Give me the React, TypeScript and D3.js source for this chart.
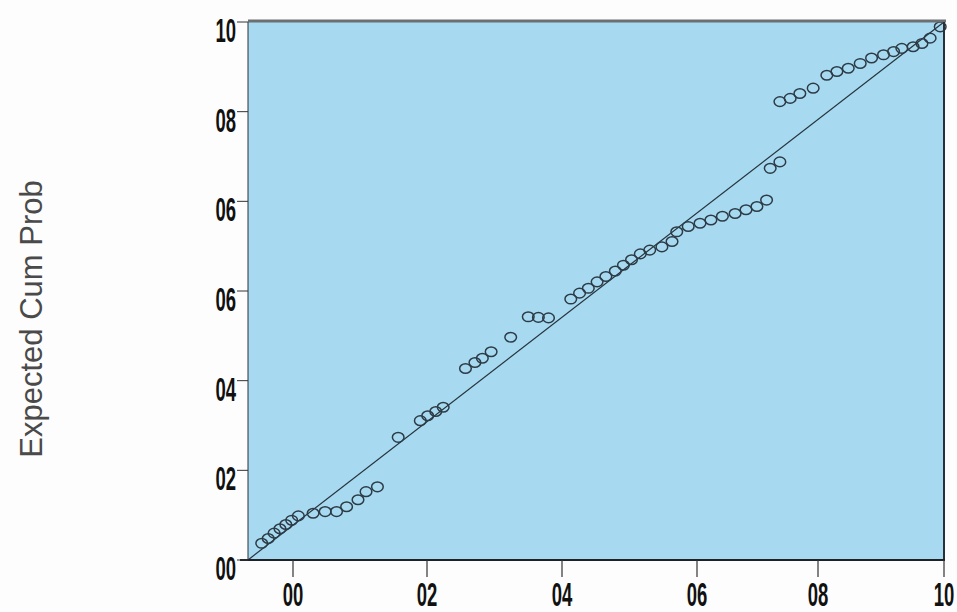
import React from 'react';
import * as d3 from 'd3';

// observed cumulative probability (x) and expected cumulative probability (y)
const observed = [
  -0.048, -0.038, -0.029, -0.02, -0.011, -0.002, 0.008, 0.03, 0.048, 0.065, 0.08, 0.097, 0.109, 0.126,
  0.157, 0.19, 0.201, 0.213, 0.224, 0.257, 0.271, 0.282, 0.295, 0.324, 0.35, 0.365, 0.38,
  0.413, 0.426, 0.439, 0.452, 0.465, 0.479, 0.491, 0.503, 0.516, 0.53, 0.548, 0.563, 0.57, 0.587,
  0.605, 0.623, 0.642, 0.663, 0.681, 0.699, 0.715, 0.721, 0.737, 0.737, 0.754, 0.77, 0.792,
  0.814, 0.83, 0.848, 0.867, 0.885, 0.904, 0.92, 0.933, 0.951, 0.965, 0.978, 0.994,
];
const expected = [
  0.031, 0.04, 0.05, 0.058, 0.066, 0.074, 0.082, 0.087, 0.09, 0.09, 0.099, 0.112, 0.127, 0.136,
  0.228, 0.259, 0.268, 0.276, 0.284, 0.356, 0.367, 0.375, 0.387, 0.414, 0.452, 0.451, 0.45,
  0.485, 0.496, 0.505, 0.517, 0.527, 0.537, 0.548, 0.558, 0.569, 0.576, 0.582, 0.592, 0.61, 0.62,
  0.626, 0.632, 0.639, 0.644, 0.651, 0.657, 0.669, 0.728, 0.74, 0.852, 0.858, 0.867, 0.877,
  0.901, 0.908, 0.914, 0.923, 0.933, 0.939, 0.945, 0.951, 0.954, 0.96, 0.97, 0.991,
];

const xMin = -0.069;
const xTickValues = [0, 0.2, 0.4, 0.6, 0.8, 1.0];
const xTickLabels = ['00', '02', '04', '06', '08', '10'];
const yTickValues = [0, 1 / 6, 2 / 6, 3 / 6, 4 / 6, 5 / 6, 1];
const yTickLabels = ['00', '02', '04', '06', '06', '08', '10'];

const W = 957;
const H = 612;
const left = 248;
const right = 944;
const top = 22;
const bottom = 560;

// the source chart's axis is slightly uneven, so the scale follows its tick marks
const x = d3
  .scaleLinear()
  .domain([xMin, 0, 0.2, 0.4, 0.6, 0.8, 1])
  .range([left, 293, 427, 562, 697, 818, right]);
const y = d3.scaleLinear().domain([0, 1]).range([bottom, top]);

const tickFont: React.CSSProperties = {
  fontFamily: '"Liberation Sans", Arial, sans-serif',
  fontWeight: 'bold',
  fontSize: 33,
};

export default function App() {
  const refLine = d3.line<[number, number]>()
    .x((d) => x(d[0]))
    .y((d) => y(d[1]));

  return (
    <svg width={W} height={H} style={{ position: 'absolute', left: 0, top: 0, background: '#fdfdfd' }}>
      <rect x={left} y={top} width={right - left} height={bottom - top} fill="#a7daf0" />

      {/* reference diagonal */}
      <path d={refLine([[xMin, 0], [1, 1]]) ?? ''} stroke="#26333c" strokeWidth={1.2} fill="none" />

      {observed.map((v, i) => (
        <ellipse
          key={i}
          cx={x(v)}
          cy={y(expected[i])}
          rx={5.8}
          ry={4.8}
          fill="none"
          stroke="#2c3b46"
          strokeWidth={1.5}
        />
      ))}

      {/* frame */}
      <line x1={left} x2={right + 2} y1={top - 1} y2={top - 1} stroke="#6b6f72" strokeWidth={3} />
      <line x1={left} x2={left} y1={top} y2={bottom} stroke="#2a3136" strokeWidth={1} />
      <line x1={right} x2={right} y1={top} y2={bottom} stroke="#2a3136" strokeWidth={2} />
      <line x1={left - 8} x2={right + 1} y1={bottom} y2={bottom} stroke="#1d2226" strokeWidth={2} />

      {/* y axis */}
      {yTickValues.map((v, i) => (
        <g key={i}>
          <line x1={left - 11} x2={left} y1={y(v)} y2={y(v)} stroke="#333" strokeWidth={1} />
          <text
            transform={`translate(236,${y(v) + 20}) scale(0.56,1)`}
            textAnchor="end"
            fill="#111"
            style={tickFont}
          >
            {yTickLabels[i]}
          </text>
        </g>
      ))}

      {/* x axis */}
      {xTickValues.map((v, i) => (
        <g key={i}>
          <line x1={x(v)} x2={x(v)} y1={bottom} y2={bottom + 17} stroke="#333" strokeWidth={1.2} />
          <text
            transform={`translate(${x(v)},606) scale(0.56,1)`}
            textAnchor="middle"
            fill="#111"
            style={tickFont}
          >
            {xTickLabels[i]}
          </text>
        </g>
      ))}

      <text
        transform={`translate(42,319) rotate(-90)`}
        textAnchor="middle"
        fill="#4a4a4a"
        style={{ fontFamily: '"Liberation Sans", Arial, sans-serif', fontSize: 31 }}
      >
        Expected Cum Prob
      </text>
    </svg>
  );
}
